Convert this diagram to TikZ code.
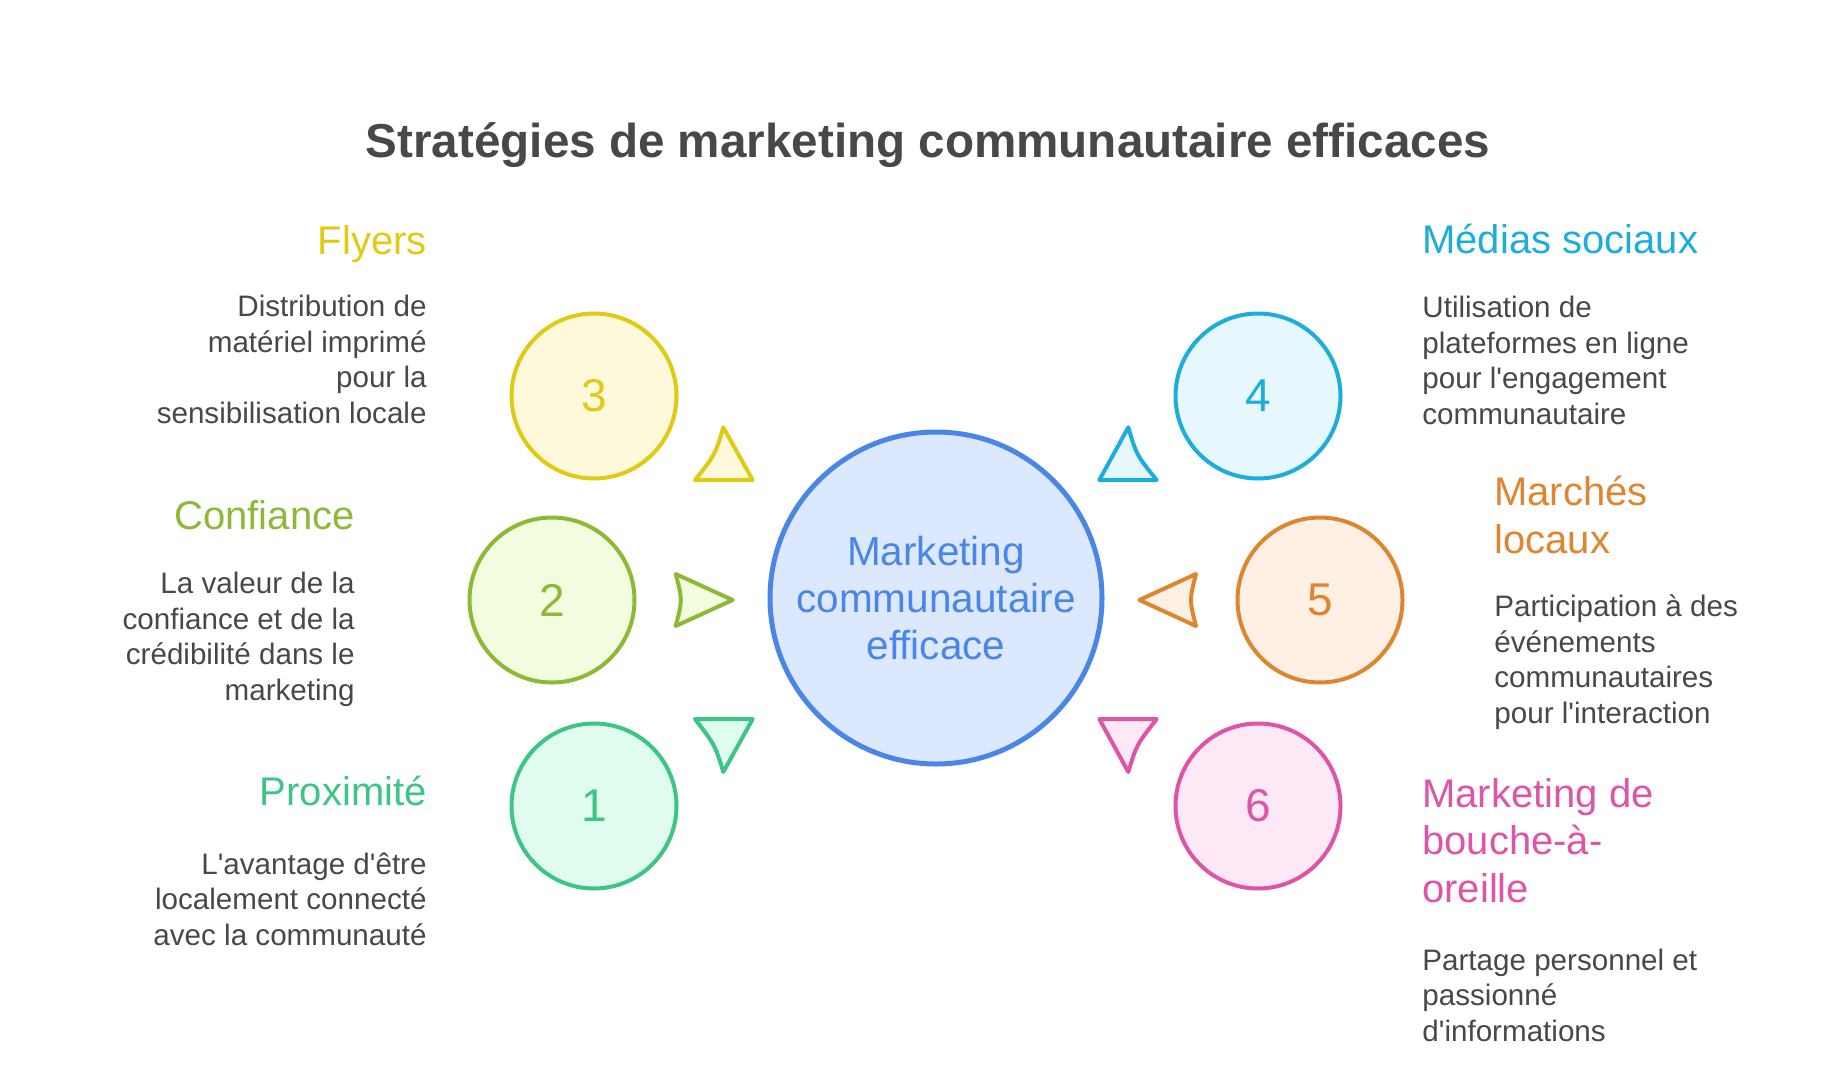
\documentclass[tikz,border=0pt]{standalone}
\usepackage{fontspec}
\setmainfont{Liberation Sans}
\usepackage{tikz}
\usetikzlibrary{positioning}

\definecolor{inkgray}{HTML}{484848}
\definecolor{hubline}{HTML}{4A86E8}
\definecolor{hubfill}{HTML}{DCE8FE}
\definecolor{yelline}{HTML}{E2C913}
\definecolor{yelfill}{HTML}{FEF9DB}
\definecolor{limeline}{HTML}{8DB936}
\definecolor{limefill}{HTML}{F2FDDF}
\definecolor{mintline}{HTML}{3CC584}
\definecolor{mintfill}{HTML}{E0FCEF}
\definecolor{cyanline}{HTML}{1DADDC}
\definecolor{cyanfill}{HTML}{E6F8FE}
\definecolor{orgline}{HTML}{E0852F}
\definecolor{orgfill}{HTML}{FEF1E4}
\definecolor{pinkline}{HTML}{DE55A8}
\definecolor{pinkfill}{HTML}{FDE9F5}

\tikzset{
        bubble/.style={circle, draw, line width=2pt, minimum size=82.5pt,
                       inner sep=0pt, font=\fontsize{23}{23}\selectfont},
        hub/.style={circle, draw=hubline, fill=hubfill, line width=2.5pt,
                    minimum size=166pt, inner sep=0pt, align=center,
                    text=hubline, font=\fontsize{20.25}{23.65}\selectfont},
        heading/.style={inner sep=0pt, font=\fontsize{20}{23.75}\selectfont},
        blurb/.style={inner sep=0pt, text=inkgray,
                      font=\fontsize{14.8}{17.75}\selectfont},
        pointer/.style={line width=2pt, line join=round},
}

\begin{document}
\begin{tikzpicture}[x=0.5pt, y=-0.5pt]
    \fill[white] (0,0) rectangle (1848,1087);
    \useasboundingbox (0,0) rectangle (1848,1087);

    \node[anchor=base, inner sep=0pt, text=inkgray,
          font=\bfseries\fontsize{23.8}{28}\selectfont] (title) at (928,157)
          {Stratégies de marketing communautaire efficaces};

    \node[hub] (hub) at (936,598) {Marketing\\communautaire\\efficace};

    \node[bubble, draw=yelline, fill=yelfill, text=yelline] (c3) at (594,396) {3};
    \node[bubble, draw=limeline, fill=limefill, text=limeline] (c2) at (552,600) {2};
    \node[bubble, draw=mintline, fill=mintfill, text=mintline] (c1) at (594,806) {1};
    \node[bubble, draw=cyanline, fill=cyanfill, text=cyanline] (c4) at (1258,396) {4};
    \node[bubble, draw=orgline, fill=orgfill, text=orgline] (c5) at (1320,600) {5};
    \node[bubble, draw=pinkline, fill=pinkfill, text=pinkline] (c6) at (1258,806) {6};

    \draw[pointer, draw=yelline, fill=yelfill] (695,480) .. controls (715,455) .. (723.3,427.3)
        -- (752.7,480) -- cycle;
    \draw[pointer, draw=limeline, fill=limefill] (675.7,574) -- (732.7,600) -- (675.7,626)
        .. controls (682.5,600) .. cycle;
    \draw[pointer, draw=mintline, fill=mintfill] (695,719) -- (752.7,719) -- (723.3,772)
        .. controls (715,745) .. cycle;
    \draw[pointer, draw=cyanline, fill=cyanfill] (1099.3,480) -- (1128.3,427.3)
        .. controls (1136.5,455) .. (1156.7,480) -- cycle;
    \draw[pointer, draw=orgline, fill=orgfill] (1139.3,600) -- (1196,574)
        .. controls (1189.3,600) .. (1196,626) -- cycle;
    \draw[pointer, draw=pinkline, fill=pinkfill] (1099.3,719) -- (1156.7,719)
        .. controls (1136.5,745) .. (1128.3,772) -- cycle;

    \node[heading, text=yelline, anchor=base east] (flyers) at (427,254) {Flyers};
    \node[blurb, align=right, anchor=base east] (flyerstxt) at (427,423)
        {Distribution de\\matériel imprimé\\pour la\\sensibilisation locale};

    \node[heading, text=limeline, anchor=base east] (trust) at (355,529) {Confiance};
    \node[blurb, align=right, anchor=base east] (trusttxt) at (355,700)
        {La valeur de la\\confiance et de la\\crédibilité dans le\\marketing};

    \node[heading, text=mintline, anchor=base east] (near) at (427,805) {Proximité};
    \node[blurb, align=right, anchor=base east] (neartxt) at (427,945)
        {L\textquotesingle avantage d\textquotesingle être\\localement connecté\\avec la communauté};

    \node[heading, text=cyanline, anchor=base west] (social) at (1422,253) {Médias sociaux};
    \node[blurb, align=left, anchor=base west] (socialtxt) at (1422,424)
        {Utilisation de\\plateformes en ligne\\pour l\textquotesingle engagement\\communautaire};

    \node[heading, text=orgline, align=left, anchor=base west] (markets) at (1494,553)
        {Marchés\\locaux};
    \node[blurb, align=left, anchor=base west] (marketstxt) at (1494,723)
        {Participation à des\\événements\\communautaires\\pour l\textquotesingle interaction};

    \node[heading, text=pinkline, align=left, anchor=base west] (mouth) at (1422,902)
        {Marketing de\\bouche-à-\\oreille};
    \node[blurb, align=left, anchor=base west] (mouthtxt) at (1422,1041)
        {Partage personnel et\\passionné\\d\textquotesingle informations};
\end{tikzpicture}
\end{document}
